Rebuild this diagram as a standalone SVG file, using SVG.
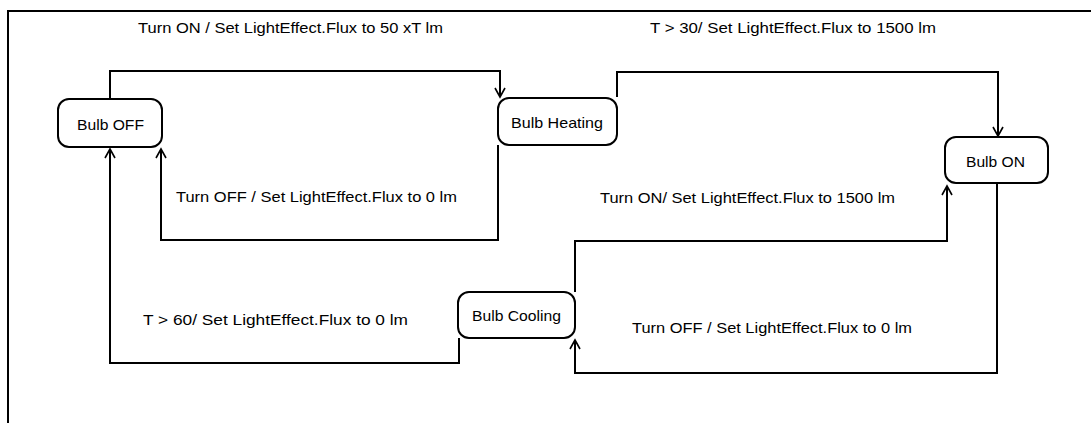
<svg xmlns="http://www.w3.org/2000/svg" width="1091" height="423" viewBox="0 0 1091 423">
<style>
.st{fill:#fff;stroke:#000;stroke-width:2}
.ln{fill:none;stroke:#000;stroke-width:2}
text{font-family:"Liberation Sans",Arial,sans-serif;font-size:15px;fill:#000}
.c{text-anchor:middle}
</style>
<defs>
<marker id="arr" markerUnits="userSpaceOnUse" markerWidth="14" markerHeight="14" refX="0" refY="0" viewBox="-10 -7 12 14" orient="auto">
<path d="M-9,-5 L0,0 L-9,5" fill="none" stroke="#000" stroke-width="1.6"/>
</marker>
</defs>
<rect width="1091" height="423" fill="#fff"/>
<path class="ln" d="M8,423 V11 H1091"/>
<g id="connectors">
<path class="ln" d="M110,99 V71 H500 V97" marker-end="url(#arr)"/>
<path class="ln" d="M617,97 V72 H998 V136" marker-end="url(#arr)"/>
<path class="ln" d="M498,145 V240 H161 V149" marker-end="url(#arr)"/>
<path class="ln" d="M459,338 V363 H110 V149" marker-end="url(#arr)"/>
<path class="ln" d="M575,292 V241 H947 V186" marker-end="url(#arr)"/>
<path class="ln" d="M997,183 V373 H575 V340" marker-end="url(#arr)"/>
<text x="138" y="33" textLength="305" lengthAdjust="spacingAndGlyphs">Turn ON / Set LightEffect.Flux to 50 xT lm</text>
<text x="650" y="33" textLength="286" lengthAdjust="spacingAndGlyphs">T &gt; 30/ Set LightEffect.Flux to 1500 lm</text>
<text x="176" y="202" textLength="281" lengthAdjust="spacingAndGlyphs">Turn OFF / Set LightEffect.Flux to 0 lm</text>
<text x="600" y="203" textLength="295" lengthAdjust="spacingAndGlyphs">Turn ON/ Set LightEffect.Flux to 1500 lm</text>
<text x="143" y="325" textLength="265" lengthAdjust="spacingAndGlyphs">T &gt; 60/ Set LightEffect.Flux to 0 lm</text>
<text x="632" y="333" textLength="280" lengthAdjust="spacingAndGlyphs">Turn OFF / Set LightEffect.Flux to 0 lm</text>
</g>
<g id="bulb-off">
<rect class="st" x="58" y="99" width="104" height="48" rx="11"/>
<text x="77" y="130" textLength="67" lengthAdjust="spacingAndGlyphs">Bulb OFF</text>
</g>
<g id="bulb-heating">
<rect class="st" x="498" y="98" width="119" height="47" rx="11"/>
<text x="511" y="128" textLength="92" lengthAdjust="spacingAndGlyphs">Bulb Heating</text>
</g>
<g id="bulb-on">
<rect class="st" x="945" y="137" width="103" height="46" rx="11"/>
<text x="966" y="167" textLength="59" lengthAdjust="spacingAndGlyphs">Bulb ON</text>
</g>
<g id="bulb-cooling">
<rect class="st" x="458" y="292" width="117" height="46" rx="11"/>
<text x="472" y="321" textLength="89" lengthAdjust="spacingAndGlyphs">Bulb Cooling</text>
</g>
</svg>
